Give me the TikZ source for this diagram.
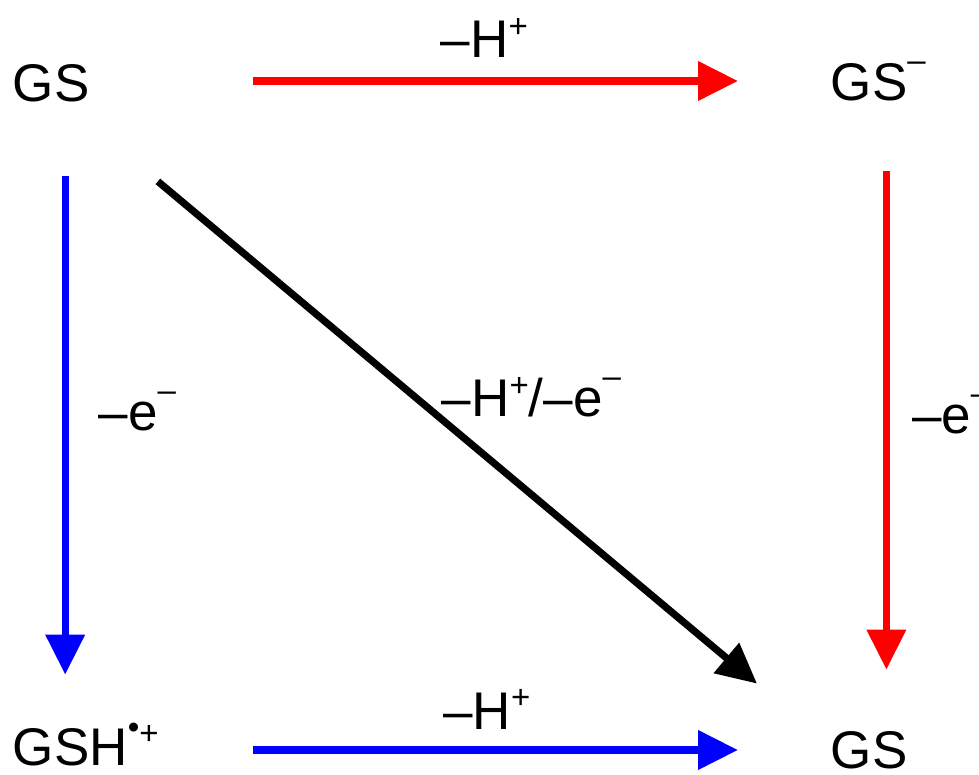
\documentclass[tikz,border=0pt]{standalone}
\usepackage{fontspec}
\setmainfont{Liberation Sans}
\usepackage{tikz}
\usetikzlibrary{arrows.meta}

\newcommand{\supplus}{\raisebox{0.385em}{\fontsize{16.5}{16.5}\selectfont +}}
\newcommand{\supminus}{\raisebox{0.55em}{\fontsize{16.5}{16.5}\selectfont –}}
\newcommand{\supdot}{\raisebox{0.5em}{\fontsize{16.5}{16.5}\selectfont •}}

\begin{document}
\begin{tikzpicture}[
  x=0.5pt, y=-0.5pt,
  species/.style={inner sep=0, anchor=base west, text height=19pt, text depth=0pt,
    font=\fontsize{26.5}{30}\selectfont},
  lbl/.style={inner sep=0, anchor=base west, text=black, font=\fontsize{26.5}{30}\selectfont},
  arr/.style={line width=3.6pt, -{Triangle[length=20pt, width=19pt]}},
  redarr/.style={arr, red},
  bluearr/.style={arr, blue}
]
\useasboundingbox (0,0) rectangle (979,775);

\node[species] (gs) at (12.5,102) {GS};
\node[species] (gsm) at (830.5,101) {GS\supminus};
\node[species] (gshr) at (12.5,765) {GSH\supdot\supplus};
\node[species] (gsb) at (830.5,768) {GS};

% deprotonation
\draw[redarr, shorten <=81.5pt, shorten >=46.25pt] ([yshift=1pt]gs.east) -- ([yshift=1pt]gs.east -| gsm.west)
  node[lbl, pos=0.469, yshift=11.5pt] {–H\supplus};
\draw[bluearr, shorten <=47pt, shorten >=46.25pt] ([yshift=-2pt]gshr.east) -- ([yshift=-2pt]gshr.east -| gsb.west)
  node[lbl, pos=0.418, yshift=10.5pt] {–H\supplus};

% oxidation
\draw[bluearr, shorten <=37pt, shorten >=26pt] ([xshift=7pt]gs.south) -- ([xshift=7pt]gs.south |- gshr.north)
  node[lbl, pos=0.526, xshift=15pt] {–e\supminus};
\draw[redarr, shorten <=35pt, shorten >=30pt] ([xshift=8.6pt]gsb.north |- gsm.south) -- ([xshift=8.6pt]gsb.north)
  node[lbl, pos=0.529, xshift=11pt] {–e\supminus};

% concerted
\draw[arr] ([shift={(34pt,-39.5pt)}]gs.south east) -- ([shift={(-36.75pt,23pt)}]gsb.north west)
  node[lbl, pos=0.468] {–H\supplus/–e\supminus};
\end{tikzpicture}
\end{document}
